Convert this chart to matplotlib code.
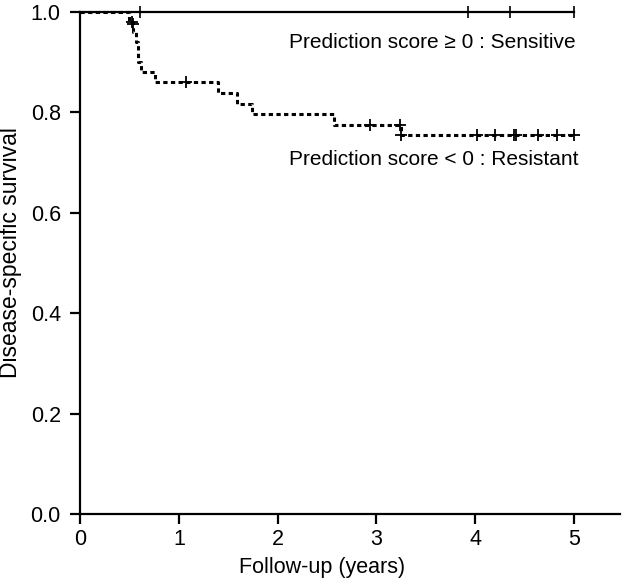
import numpy as np
import matplotlib
matplotlib.use("Agg")
import matplotlib.pyplot as plt

plt.rcParams['font.family'] = ['Liberation Sans', 'DejaVu Sans']

# Sensitive group (score >= 0): no events
sens_t = [0.0, 5.0]
sens_s = [1.0, 1.0]
sens_cens_t = [0.61, 3.93, 4.35, 5.0]

# Resistant group (score < 0): step function
res_t = [0.0, 0.49, 0.53, 0.57, 0.59, 0.62, 0.76, 1.40, 1.585, 1.74, 2.57, 3.245, 5.0]
res_s = [1.0, 0.98, 0.96, 0.94, 0.90, 0.88, 0.859, 0.838, 0.817, 0.796, 0.775, 0.754, 0.754]
res_cens_t = [0.52, 0.53, 1.07, 2.94, 3.24, 3.25, 4.02, 4.20, 4.39, 4.42, 4.64, 4.83, 5.0]
res_cens_s = [0.98, 0.975, 0.859, 0.775, 0.775, 0.754, 0.754, 0.754, 0.754, 0.754, 0.754, 0.754, 0.754]

fig = plt.figure(figsize=(6.22, 5.79), dpi=100)
ax = fig.add_axes([0.129, 0.112, 0.868, 0.868])

ax.step(sens_t, sens_s, where='post', color='black', lw=1.6, clip_on=False)
ax.plot(sens_cens_t, [1.0]*len(sens_cens_t), ls='none', marker='|', ms=8, mew=1.2, color='black', clip_on=False)

ax.step(res_t, res_s, where='post', color='black', lw=2.2, dashes=(1.4, 1.1), clip_on=False)
ax.plot(res_cens_t, res_cens_s, ls='none', marker='+', ms=8, mew=1.3, color='black', clip_on=False)

ax.text(5.02, 0.938, 'Prediction score \u2265 0 : Sensitive', ha='right', va='center', fontsize=15)
ax.text(5.05, 0.705, 'Prediction score < 0 : Resistant', ha='right', va='center', fontsize=15)

ax.set_xlim(0, 5.47)
ax.set_ylim(0, 1.0)
ax.set_xticks([0, 1, 2, 3, 4, 5])
ax.set_yticks([0.0, 0.2, 0.4, 0.6, 0.8, 1.0])
ax.set_yticklabels(['0.0', '0.2', '0.4', '0.6', '0.8', '1.0'])
ax.tick_params(labelsize=15.5, width=1.6, length=7, direction='out')
ax.tick_params(axis='y', pad=7)
ax.tick_params(axis='x', pad=4)
for s in ['top', 'right']:
    ax.spines[s].set_visible(False)
for s in ['left', 'bottom']:
    ax.spines[s].set_linewidth(1.6)

ax.set_xlabel('Follow-up (years)', fontsize=15.5)
ax.set_ylabel('Disease-specific survival', fontsize=16.5)
ax.xaxis.set_label_coords(0.447, -0.085)
ax.yaxis.set_label_coords(-0.108, 0.52)

fig.savefig('out.png', dpi=100)
